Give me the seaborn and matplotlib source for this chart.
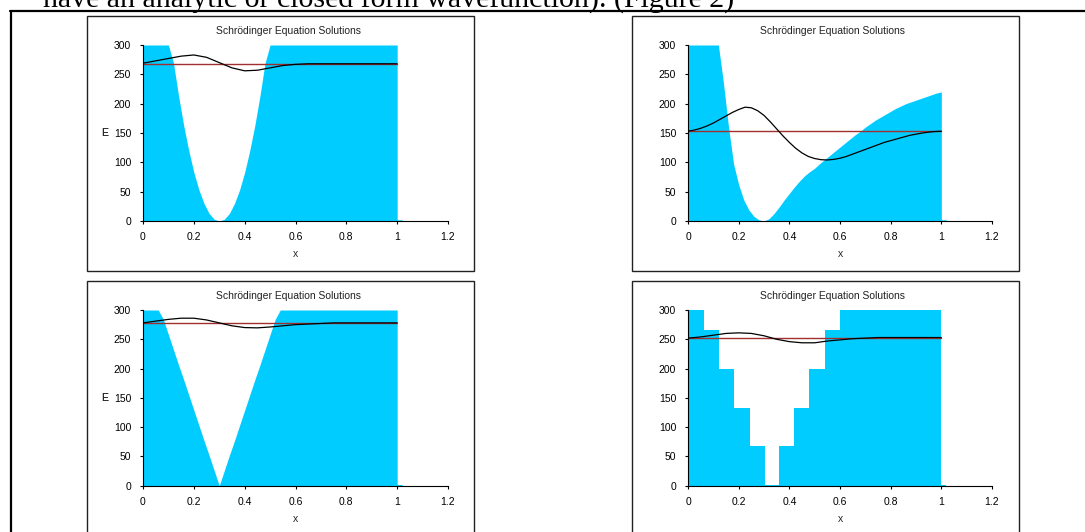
import numpy as np
import matplotlib
matplotlib.use("Agg")
import matplotlib.pyplot as plt
import seaborn as sns
from matplotlib.lines import Line2D
from matplotlib.patches import Rectangle

# ---------------- data ----------------
title = "Schrödinger Equation Solutions"
header_text = "have an analytic or closed form wavefunction). (Figure 2)"
xtick_vals = [0, 0.2, 0.4, 0.6, 0.8, 1.0, 1.2]
xtick_labels = ["0", "0.2", "0.4", "0.6", "0.8", "1", "1.2"]
ytick_vals = [0, 50, 100, 150, 200, 250, 300]

# potential sample grid (x = 0 .. 1 step 0.02) plus a small tail after x = 1
x_pot = list(np.round(np.linspace(0, 1, 51), 3)) + [1.0, 1.02]

# panel 1: parabolic well (values above 300 shown clipped at 300)
v1 = [300, 300, 300, 300, 300, 300, 269, 213, 163, 120, 83, 53, 30, 13, 3, 0,
      3, 13, 30, 53, 83, 120, 163, 213, 269] + [300] * 26 + [2, 2]
# panel 2: asymmetric well
v2 = [300, 300, 300, 300, 300, 300, 300, 235, 160, 97, 62, 36, 19, 8, 2, 0,
      4, 13, 24, 36, 47, 58, 68, 77, 84, 90, 98, 105, 112, 119, 126, 133,
      140, 147, 153, 160, 166, 172, 177, 182, 187, 192, 196, 200, 203, 206,
      209, 212, 215, 218, 220, 2, 2]
# panel 3: V-shaped well
v3 = [300, 300, 300, 300, 284, 258, 232, 206, 181, 155, 129, 103, 77, 52, 26, 0,
      26, 52, 77, 103, 129, 155, 181, 206, 232, 258, 284] + [300] * 24 + [2, 2]
# panel 4: stepped well (step edges and levels)
x_step = [0, 0.064, 0.124, 0.183, 0.244, 0.303, 0.358, 0.418, 0.477, 0.539, 0.600, 1.0, 1.0, 1.02]
v4 = [300, 265, 200, 133, 67, 2, 67, 133, 200, 265, 300, 300, 2, 2]

energies = [268, 153, 278, 253]

x_w = list(np.round(np.linspace(0, 1, 21), 3))
x_w2 = list(np.round(np.linspace(0, 1, 41), 4))
w1 = [269, 273, 277, 281, 283, 279, 270, 261, 256, 257, 261, 265, 267, 268,
      268, 268, 268, 268, 268, 268, 268]
w2 = [153, 155, 158, 162, 167, 173, 179, 185, 190, 194, 193, 188, 180, 169, 157,
      145, 134, 124, 116, 110, 106.5, 104.5, 104, 105, 107, 110, 114, 118, 122,
      126, 130, 134, 137, 140, 143, 146, 148, 150, 151.5, 152.5, 153]
w3 = [278, 281, 284, 286, 286, 283, 278, 273, 270, 269.5, 271, 273, 275, 276,
      277, 278, 278, 278, 278, 278, 278]
w4 = [252, 254, 257, 260, 261, 260, 256, 250, 246, 244, 244, 247, 249, 251,
      252, 253, 253, 253, 253, 253, 253]

# ---------------- styling ----------------
sns.set_theme(style="white")
plt.rcParams["font.family"] = ["Liberation Sans", "DejaVu Sans"]

W, H = 1085, 532
fig = plt.figure(figsize=(W / 100, H / 100), dpi=100)
fig.patch.set_facecolor("white")

def fx(px):
    return px / W

def fy(py):
    return 1 - py / H

CYAN = "#00CCFF"
RED = "#A03030"
FS = 7.5

panels = [
    dict(x=x_pot, v=v1, xw=x_w, w=w1, E=energies[0], step=False),
    dict(x=x_pot, v=v2, xw=x_w2, w=w2, E=energies[1], step=False),
    dict(x=x_pot, v=v3, xw=x_w, w=w3, E=energies[2], step=False),
    dict(x=x_step, v=v4, xw=x_w, w=w4, E=energies[3], step=True),
]

# pixel layout: (frame_left, frame_top, axes_left, axes_right, axes_top, axes_bottom)
layout = [
    (87, 16, 143, 448, 45, 221),
    (632, 16, 688, 992, 45, 221),
    (87, 281, 143, 448, 310, 485.7),
    (632, 281, 688, 992, 310, 485.7),
]

for p, (flx, fty, al, ar, at, ab) in zip(panels, layout):
    # chart frame
    fig.add_artist(Rectangle((fx(flx), fy(fty + 255)), 387 / W, 255 / H,
                             fill=False, ec="#222222", lw=1.0,
                             transform=fig.transFigure, zorder=0))
    ax = fig.add_axes([fx(al), fy(ab), (ar - al) / W, (ab - at) / H])
    ax.set_facecolor("none")
    if p["step"]:
        ax.fill_between(p["x"], 0, p["v"], step="post", color=CYAN, lw=0, zorder=1)
    else:
        ax.fill_between(p["x"], 0, p["v"], color=CYAN, lw=0, zorder=1)
    sns.lineplot(x=[0, 1], y=[p["E"], p["E"]], color=RED, lw=1.0, ax=ax,
                 sort=False, estimator=None, zorder=2)
    sns.lineplot(x=p["xw"], y=p["w"], color="black", lw=0.9, ax=ax,
                 sort=False, estimator=None, zorder=3)
    ax.set_xlim(0, 1.2)
    ax.set_ylim(0, 300)
    ax.set_xticks(xtick_vals)
    ax.set_xticklabels(xtick_labels)
    ax.set_yticks(ytick_vals)
    for s in ["top", "right"]:
        ax.spines[s].set_visible(False)
    for s in ["left", "bottom"]:
        ax.spines[s].set_color("black")
        ax.spines[s].set_linewidth(0.8)
    ax.tick_params(axis="both", direction="out", length=2.5, width=0.8,
                   colors="black", labelsize=FS, left=True, bottom=True)
    ax.tick_params(axis="y", pad=6)
    ax.tick_params(axis="x", pad=5.5)
    ax.set_xlabel("x", fontsize=FS)
    ax.xaxis.set_label_coords(0.5, (221 - 254) / 176)
    ax.xaxis.label.set_va("center")
    ax.set_ylabel("E", fontsize=FS, rotation=0, ha="center", va="center")
    ax.yaxis.set_label_coords((105 - al) / (ar - al), 0.5)
    ax.grid(False)
    # title
    fig.text(fx(flx + 201), fy(fty + 15), title, ha="center", va="center",
             fontsize=FS, color="#222222")

# outer table lines
fig.add_artist(Line2D([fx(10), 1.0], [fy(11), fy(11)], color="black", lw=1.6,
                      transform=fig.transFigure))
fig.add_artist(Line2D([fx(10.5), fx(10.5)], [0, fy(11)], color="black", lw=1.6,
                      transform=fig.transFigure))

# cut-off document text at the top
fig.text(fx(43), fy(7.5), header_text, family=["Liberation Serif", "DejaVu Serif"],
         fontsize=21.5, va="baseline", ha="left", color="black")

fig.savefig("out.png", dpi=100, facecolor="white")
